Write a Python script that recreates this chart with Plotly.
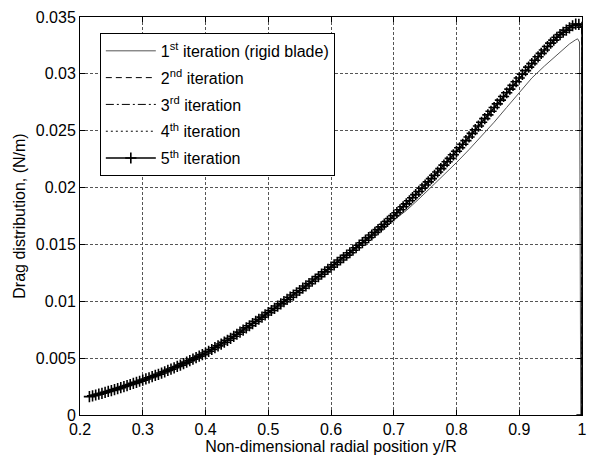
import plotly.graph_objects as go

# ---------------- data ----------------
# radial stations used by the converged iterations (2nd..5th), y/R
r_conv = [0.215 + 0.005 * i for i in range(158)] + [1.0]
# drag distribution of iterations 2-5 (they coincide in the picture), N/m, in 1e-4 units
drag_conv_e4 = [
    16.2, 16.9, 17.6, 18.4, 19.1, 19.9, 20.7, 21.5, 22.3, 23.2,
    24.1, 25.0, 25.9, 26.8, 27.8, 28.7, 29.7, 30.7, 31.7, 32.7,
    33.7, 34.8, 35.8, 36.9, 38.0, 39.2, 40.3, 41.5, 42.7, 43.9,
    45.2, 46.5, 47.8, 49.1, 50.4, 51.8, 53.1, 54.5, 56.0, 57.6,
    59.2, 60.8, 62.4, 64.0, 65.7, 67.4, 69.2, 71.0, 72.9, 74.7,
    76.6, 78.5, 80.4, 82.3, 84.2, 86.1, 88.0, 90.0, 91.9, 93.8,
    95.8, 97.7, 99.7, 101.6, 103.6, 105.5, 107.5, 109.5, 111.5, 113.5,
    115.5, 117.6, 119.6, 121.7, 123.8, 125.9, 128.0, 130.0, 132.1, 134.2,
    136.3, 138.4, 140.6, 142.7, 144.9, 147.1, 149.3, 151.5, 153.7, 156.0,
    158.3, 160.6, 163.0, 165.4, 167.8, 170.3, 172.8, 175.3, 177.9, 180.5,
    183.1, 185.7, 188.4, 191.1, 193.8, 196.6, 199.4, 202.2, 205.0, 207.9,
    210.8, 213.7, 216.7, 219.7, 222.7, 225.7, 228.8, 231.9, 235.0, 238.1,
    241.3, 244.5, 247.7, 250.9, 254.1, 257.4, 260.6, 263.9, 267.1, 270.4,
    273.6, 276.9, 280.1, 283.4, 286.6, 289.9, 293.1, 296.4, 299.6, 302.8,
    305.9, 309.0, 312.0, 315.0, 318.0, 321.0, 324.0, 327.0, 329.7, 332.2,
    334.5, 336.6, 338.5, 340.5, 342.3, 343.8, 343.5, 341.0, 0.0,
]

# 1st iteration (rigid blade)
r_iter1 = [0.215, 0.25, 0.30, 0.35, 0.40, 0.45, 0.50, 0.55, 0.60, 0.62,
           0.64, 0.66, 0.68, 0.70, 0.72, 0.74, 0.76, 0.78, 0.80, 0.82,
           0.84, 0.86, 0.88, 0.90, 0.92, 0.94, 0.95, 0.96, 0.97, 0.98,
           0.99, 0.993, 0.996, 0.998]
drag_iter1_e4 = [16.2, 21.5, 30.7, 41.5, 54.5, 71.0, 90.0, 109.5, 130.0, 138.2,
                 146.4, 154.7, 162.6, 170.8, 179.8, 189.9, 200.3, 211.0, 222.0, 233.4,
                 245.2, 257.5, 270.5, 283.8, 296.3, 306.8, 311.8, 316.8, 321.8, 326.3,
                 330.0, 330.8, 328.0, 0.0]

legend_names = [
    "1<sup>st</sup> iteration (rigid blade)",
    "2<sup>nd</sup> iteration",
    "3<sup>rd</sup> iteration",
    "4<sup>th</sup> iteration",
    "5<sup>th</sup> iteration",
]

x_tickvals = [0.2, 0.3, 0.4, 0.5, 0.6, 0.7, 0.8, 0.9, 1.0]
x_ticktext = ["0.2", "0.3", "0.4", "0.5", "0.6", "0.7", "0.8", "0.9", "1"]
y_tickvals = [0, 0.005, 0.01, 0.015, 0.02, 0.025, 0.03, 0.035]
y_ticktext = ["0", "0.005", "0.01", "0.015", "0.02", "0.025", "0.03", "0.035"]

x_title = "Non-dimensional radial position y/R"
y_title = "Drag distribution, (N/m)"

# ---------------- figure ----------------
drag_conv = [v * 1e-4 for v in drag_conv_e4]
drag_iter1 = [v * 1e-4 for v in drag_iter1_e4]

FONT = "Arial, Liberation Sans, sans-serif"
FS = 16

fig = go.Figure()
fig.add_trace(go.Scatter(x=r_iter1, y=drag_iter1, mode="lines", name=legend_names[0],
                         line=dict(color="#555555", width=1), legendgroup="g1"))
dashes = ["6px,4px", "8px,3px,2px,3px", "2px,3px"]
for k in range(3):
    fig.add_trace(go.Scatter(x=r_conv, y=drag_conv, mode="lines", name=legend_names[k + 1],
                             line=dict(color="black", width=1, dash=dashes[k]),
                             legendgroup="g%d" % (k + 2)))
fig.add_trace(go.Scatter(x=r_conv, y=drag_conv, mode="lines+markers", name=legend_names[4],
                         line=dict(color="black", width=1.5),
                         marker=dict(symbol="cross-thin-open", size=8,
                                     line=dict(color="black", width=1.6)),
                         legendgroup="g5"))

axis_common = dict(
    showline=True, linecolor="black", linewidth=1, mirror="ticks",
    ticks="inside", ticklen=5, tickcolor="black", tickwidth=1,
    showgrid=True, gridcolor="#555555", gridwidth=1, griddash="3px,2px",
    zeroline=False, tickfont=dict(family=FONT, size=FS, color="black"),
)

fig.update_xaxes(range=[0.2, 1.0], tickvals=x_tickvals, ticktext=x_ticktext,
                 title=dict(text=x_title, font=dict(family=FONT, size=FS, color="black"),
                            standoff=0),
                 **axis_common)
fig.update_yaxes(range=[0, 0.035], tickvals=y_tickvals, ticktext=y_ticktext,
                 title=dict(text=y_title, font=dict(family=FONT, size=FS, color="black"),
                            standoff=6),
                 **axis_common)

fig.update_layout(
    width=596, height=462,
    margin=dict(l=80, r=9, t=16, b=47),
    paper_bgcolor="white", plot_bgcolor="white",
    font=dict(family=FONT, size=FS, color="black"),
    showlegend=True,
    legend=dict(x=0.0395, y=0.96, xanchor="left", yanchor="top",
                bgcolor="white", bordercolor="black", borderwidth=1,
                font=dict(family=FONT, size=FS, color="black"),
                itemwidth=50, tracegroupgap=3, traceorder="grouped"),
)

fig.write_html("out.html")
